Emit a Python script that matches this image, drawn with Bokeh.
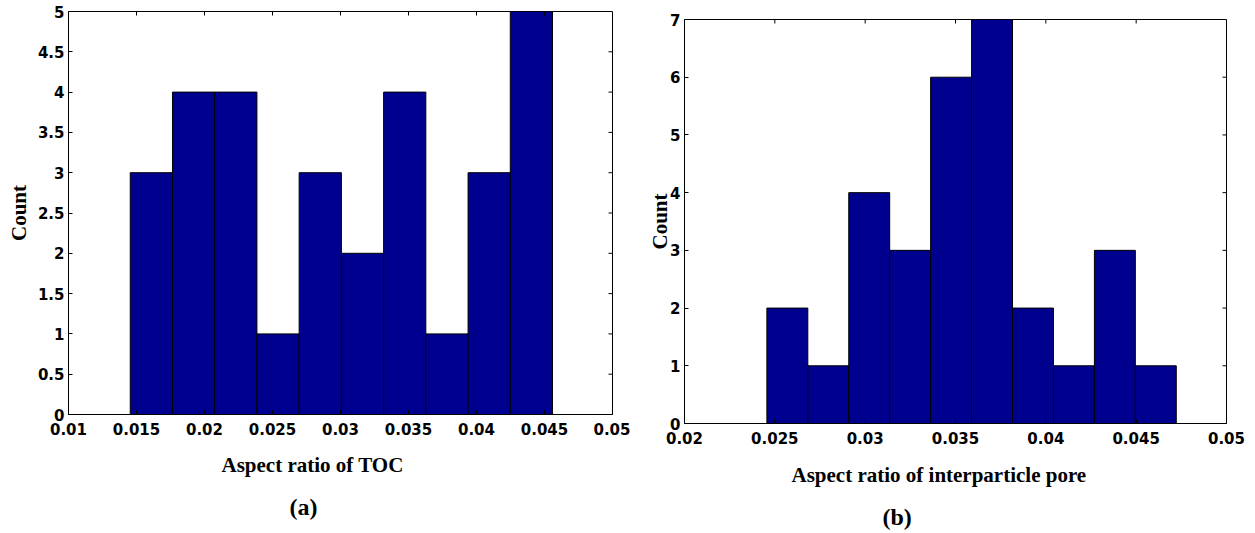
import math
from bokeh.plotting import figure
from bokeh.layouts import row, column
from bokeh.models import LinearAxis, FixedTicker, Title, Range1d
from bokeh.embed import file_html
from bokeh.resources import INLINE

# Panel (a): aspect ratio of TOC
toc_edges = [0.01454, 0.017645, 0.02075, 0.023855, 0.02696, 0.030065,
             0.03317, 0.036275, 0.03938, 0.042485, 0.04559]
toc_counts = [3, 4, 4, 1, 3, 2, 4, 1, 3, 5]
toc_xticks = [0.01, 0.015, 0.02, 0.025, 0.03, 0.035, 0.04, 0.045, 0.05]
toc_xlabels = ["0.01", "0.015", "0.02", "0.025", "0.03", "0.035", "0.04", "0.045", "0.05"]
toc_yticks = [0, 0.5, 1, 1.5, 2, 2.5, 3, 3.5, 4, 4.5, 5]
toc_ylabels = ["0", "0.5", "1", "1.5", "2", "2.5", "3", "3.5", "4", "4.5", "5"]

# Panel (b): aspect ratio of interparticle pore
pore_edges = [0.02456, 0.026826, 0.029092, 0.031358, 0.033624, 0.03589,
              0.038156, 0.040422, 0.042688, 0.044954, 0.04722]
pore_counts = [2, 1, 4, 3, 6, 7, 2, 1, 3, 1]
pore_xticks = [0.02, 0.025, 0.03, 0.035, 0.04, 0.045, 0.05]
pore_xlabels = ["0.02", "0.025", "0.03", "0.035", "0.04", "0.045", "0.05"]
pore_yticks = [0, 1, 2, 3, 4, 5, 6, 7]
pore_ylabels = ["0", "1", "2", "3", "4", "5", "6", "7"]

BAR = "#00008F"
TICK_FONT = "DejaVu Sans"
LABEL_FONT = "Liberation Serif"


def make_panel(edges, counts, xr, yr, xticks, xlabels, yticks, ylabels,
               xlabel, tag, width, height, bl, br, bt, bb,
               ylab_standoff, xlab_offset, tag_offset, xlab_standoff, tag_standoff):
    p = figure(width=width, height=height, output_backend="svg",
               toolbar_location=None, x_range=Range1d(*xr), y_range=Range1d(*yr),
               min_border_left=bl, min_border_right=br,
               min_border_top=bt, min_border_bottom=bb,
               x_axis_location=None, y_axis_location=None)
    p.title.visible = False
    p.grid.visible = False
    p.outline_line_color = "black"
    p.outline_line_width = 1
    p.background_fill_color = "white"
    p.border_fill_color = "white"

    p.quad(left=edges[:-1], right=edges[1:], bottom=0, top=counts,
           fill_color=BAR, line_color="black", line_width=1)

    # mirrored inward ticks on the top and right frame edges
    p.ray(x=xticks, y=[yr[1]] * len(xticks), length=4, length_units="screen",
          angle=-math.pi / 2, line_color="black", line_width=1)
    p.ray(x=[xr[1]] * len(yticks), y=yticks, length=4, length_units="screen",
          angle=math.pi, line_color="black", line_width=1)

    def style(ax, ticks, labels, standoff):
        ax.ticker = FixedTicker(ticks=ticks)
        ax.major_tick_in = 4
        ax.major_tick_out = 0
        ax.minor_tick_line_color = None
        ax.axis_line_color = "black"
        ax.major_tick_line_color = "black"
        ax.major_label_overrides = {t: l for t, l in zip(ticks, labels)}
        ax.major_label_text_font = TICK_FONT
        ax.major_label_text_font_size = "15px"
        ax.major_label_text_font_style = "bold"
        ax.major_label_text_color = "black"
        ax.major_label_standoff = standoff

    xb = LinearAxis()
    style(xb, xticks, xlabels, 8)
    p.add_layout(xb, "below")

    yl = LinearAxis(axis_label="Count")
    style(yl, yticks, ylabels, 4)
    yl.axis_label_text_font = LABEL_FONT
    yl.axis_label_text_font_style = "bold"
    yl.axis_label_text_font_size = "21px"
    yl.axis_label_text_color = "black"
    yl.axis_label_standoff = ylab_standoff
    p.add_layout(yl, "left")

    tx = Title(text=xlabel, align="left", offset=xlab_offset, text_font=LABEL_FONT,
               text_font_style="bold", text_font_size="21px", text_color="black",
               standoff=xlab_standoff)
    p.add_layout(tx, "below")
    tt = Title(text=tag, align="left", offset=tag_offset, text_font=LABEL_FONT,
               text_font_style="bold", text_font_size="24px", text_color="black",
               standoff=tag_standoff)
    p.add_layout(tt, "below")
    return p


pa = make_panel(toc_edges, toc_counts, (0.01, 0.05), (0, 5), toc_xticks, toc_xlabels,
                toc_yticks, toc_ylabels, "Aspect ratio of TOC", "(a)",
                630, 533, 68, 18, 11, 119, 4, 153, 221, 26, 4)
pb = make_panel(pore_edges, pore_counts, (0.02, 0.05), (0, 7), pore_xticks, pore_xlabels,
                pore_yticks, pore_ylabels, "Aspect ratio of interparticle pore", "(b)",
                625, 533, 54, 29, 19, 110, -5, 107, 198, 29, 0)

layout = row(column(pa), column(pb), spacing=0)
open("out.html", "w").write(file_html(layout, INLINE))
